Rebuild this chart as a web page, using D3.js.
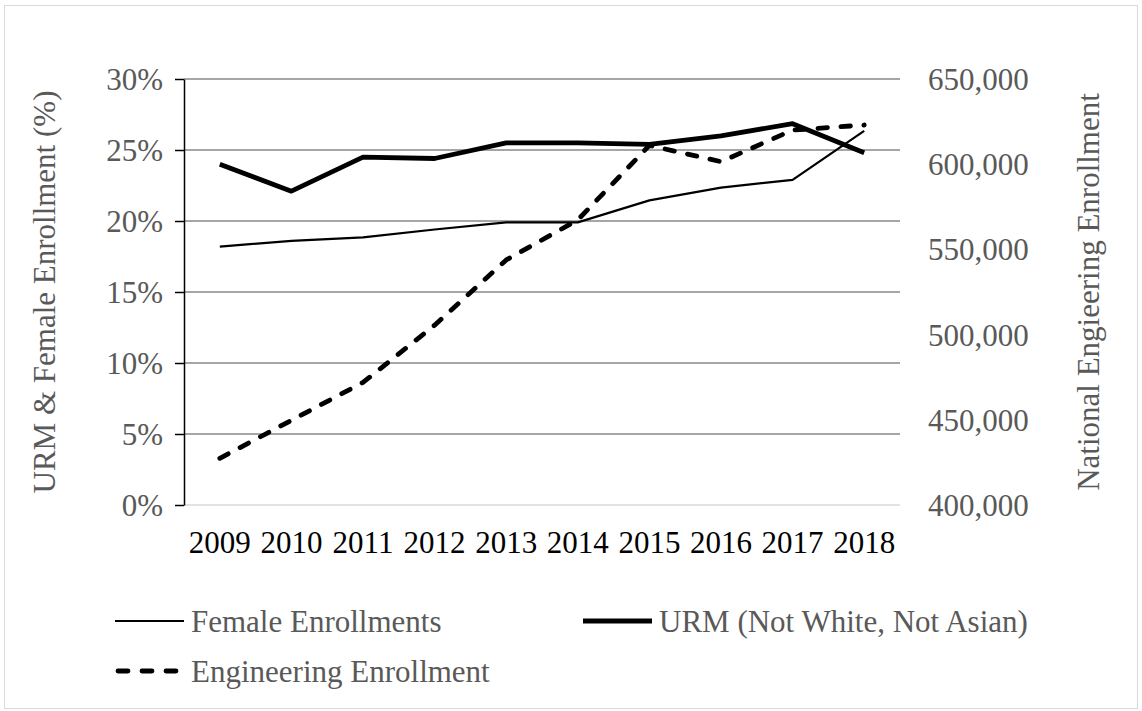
<!DOCTYPE html>
<html>
<head>
<meta charset="utf-8">
<script src="https://cdn.jsdelivr.net/npm/d3@7"></script>
<style>
  body { margin: 0; background: #fff; }
  svg text { font-family: "Liberation Serif", "Times New Roman", serif; }
</style>
</head>
<body>
<svg id="chart"></svg>
<script>
// DATA
const years = ["2009", "2010", "2011", "2012", "2013", "2014", "2015", "2016", "2017", "2018"];
const femalePct = [18.2, 18.6, 18.85, 19.4, 19.9, 19.9, 21.45, 22.35, 22.9, 26.35];
const urmPct = [24.0, 22.1, 24.5, 24.4, 25.5, 25.5, 25.4, 26.0, 26.85, 24.8];
const engEnrollment = [427400, 449700, 471900, 505500, 543800, 567300, 611000, 601500, 620000, 623000];
const leftTicks = [0, 5, 10, 15, 20, 25, 30];
const rightTicks = [400000, 450000, 500000, 550000, 600000, 650000];

const width = 1142;
const height = 711;
const margin = { top: 79, right: 242, bottom: 206, left: 184 };
const plotW = width - margin.left - margin.right;
const plotH = height - margin.top - margin.bottom;
const gray = "#595959";

const svg = d3.select("#chart").attr("width", width).attr("height", height);

// chart border
svg.append("rect")
  .attr("x", 4.5).attr("y", 5.5)
  .attr("width", 1133).attr("height", 703)
  .attr("fill", "none").attr("stroke", "#d9d9d9").attr("stroke-width", 1);

const g = svg.append("g").attr("transform", `translate(${margin.left},${margin.top})`);

// SCALES
const x = d3.scaleBand().domain(years).range([0, plotW]);
const yLeft = d3.scaleLinear().domain([0, 30]).range([plotH, 0]);
const yRight = d3.scaleLinear().domain([400000, 650000]).range([plotH, 0]);
const cx = (i) => x(years[i]) + x.bandwidth() / 2;

// GRID
g.append("g")
  .selectAll("line")
  .data(leftTicks)
  .enter()
  .append("line")
  .attr("x1", 0).attr("x2", plotW)
  .attr("y1", (d) => yLeft(d)).attr("y2", (d) => yLeft(d))
  .attr("stroke", (d) => (d === 0 ? "#d9d9d9" : "#898989"))
  .attr("stroke-width", 1.5);

// LEFT AXIS
const leftAxis = g.append("g")
  .call(d3.axisLeft(yLeft).tickValues(leftTicks).tickSize(9).tickSizeOuter(0).tickPadding(12)
    .tickFormat((d) => d + "%"));
leftAxis.select(".domain").attr("stroke", "#000").attr("stroke-width", 1.5);
leftAxis.selectAll(".tick line").attr("stroke", "#000").attr("stroke-width", 1.5);
leftAxis.selectAll("text").attr("fill", gray).style("font-size", "31px").attr("dy", "0.34em");

// RIGHT AXIS
const rightAxis = g.append("g")
  .attr("transform", `translate(${plotW},0)`)
  .call(d3.axisRight(yRight).tickValues(rightTicks).tickSize(0).tickPadding(28)
    .tickFormat(d3.format(",")));
rightAxis.select(".domain").remove();
rightAxis.selectAll("text").attr("fill", gray).style("font-size", "31px").attr("dy", "0.34em");

// X AXIS
const xAxis = g.append("g")
  .attr("transform", `translate(0,${plotH})`)
  .call(d3.axisBottom(x).tickSize(0).tickPadding(26));
xAxis.select(".domain").remove();
xAxis.selectAll("text").attr("fill", "#000").style("font-size", "31px");

// AXIS TITLES
svg.append("text")
  .attr("transform", `translate(55,${margin.top + plotH / 2}) rotate(-90)`)
  .attr("text-anchor", "middle")
  .attr("fill", gray).style("font-size", "31px")
  .text("URM & Female Enrollment (%)");

svg.append("text")
  .attr("transform", `translate(1099,${margin.top + plotH / 2}) rotate(-90)`)
  .attr("text-anchor", "middle")
  .attr("fill", gray).style("font-size", "31px")
  .text("National Engieering Enrollment");

// LINES
const femaleLine = d3.line().x((d, i) => cx(i)).y((d) => yLeft(d));
const engLine = d3.line().x((d, i) => cx(i)).y((d) => yRight(d));

g.append("path")
  .datum(femalePct)
  .attr("fill", "none").attr("stroke", "#000").attr("stroke-width", 2.2)
  .attr("stroke-linejoin", "round")
  .attr("d", femaleLine);

g.append("path")
  .datum(urmPct)
  .attr("fill", "none").attr("stroke", "#000").attr("stroke-width", 4.8)
  .attr("stroke-linejoin", "round")
  .attr("d", femaleLine);

g.append("path")
  .datum(engEnrollment)
  .attr("fill", "none").attr("stroke", "#000").attr("stroke-width", 4.8)
  .attr("stroke-dasharray", "9.5,13.5").attr("stroke-linecap", "round")
  .attr("stroke-linejoin", "round")
  .attr("d", engLine);

// LEGEND
const legendItems = [
  { name: "Female Enrollments", x: 115, y: 621, w: 2.2, dash: null },
  { name: "URM (Not White, Not Asian)", x: 583, y: 621, w: 4.8, dash: null },
  { name: "Engineering Enrollment", x: 115, y: 671, w: 4.8, dash: "10,14" }
];

const legend = svg.append("g");
const item = legend.selectAll("g").data(legendItems).enter().append("g")
  .attr("transform", (d) => `translate(${d.x},${d.y})`);

item.append("line")
  .attr("x1", (d) => (d.dash ? 3 : 0)).attr("x2", (d) => (d.dash ? 66 : 69))
  .attr("stroke", "#000").attr("stroke-width", (d) => d.w)
  .attr("stroke-linecap", (d) => (d.dash ? "round" : "butt"))
  .attr("stroke-dasharray", (d) => d.dash);

item.append("text")
  .attr("x", 76).attr("dy", "0.34em")
  .attr("fill", gray).style("font-size", "31px")
  .text((d) => d.name);
</script>
</body>
</html>
